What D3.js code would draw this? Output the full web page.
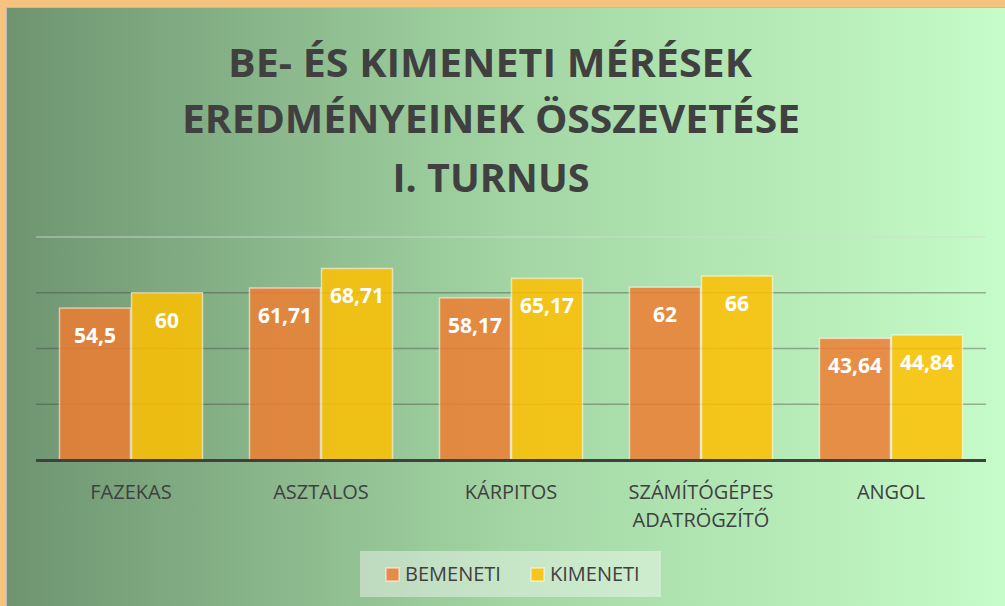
<!DOCTYPE html>
<html>
<head>
<meta charset="utf-8">
<script src="https://cdn.jsdelivr.net/npm/d3@7"></script>
<style>
  html, body { margin: 0; padding: 0; background: #F5C37E; }
  svg { display: block; font-family: "Open Sans", "Noto Sans", sans-serif; }
</style>
</head>
<body>
<svg id="chart" width="1005" height="606"></svg>
<script>
// data
var categories = [["FAZEKAS"], ["ASZTALOS"], ["KÁRPITOS"], ["SZÁMÍTÓGÉPES", "ADATRÖGZÍTŐ"], ["ANGOL"]];
var bemeneti = [54.5, 61.71, 58.17, 62, 43.64];
var kimeneti = [60, 68.71, 65.17, 66, 44.84];
var seriesNames = ["BEMENETI", "KIMENETI"];
var yTicks = [0, 20, 40, 60, 80];
var titleLines = ["BE- ÉS KIMENETI MÉRÉSEK", "EREDMÉNYEINEK ÖSSZEVETÉSE", "I. TURNUS"];

(function () {
    var svg = d3.select("#chart");
    var colors = ["#ED7D31", "#FFC000"];

    // background gradient
    var defs = svg.append("defs");
    var grad = defs.append("linearGradient").attr("id", "bg").attr("x1", "0%").attr("x2", "100%").attr("y1", "0%").attr("y2", "0%");
    grad.append("stop").attr("offset", "0%").attr("stop-color", "#6E9470");
    grad.append("stop").attr("offset", "50%").attr("stop-color", "#A2D5A3");
    grad.append("stop").attr("offset", "100%").attr("stop-color", "#C6FCC9");

    svg.append("rect").attr("x", 0).attr("y", 0).attr("width", 1005).attr("height", 606).attr("fill", "#F5C37E");
    svg.append("rect").attr("x", 6.5).attr("y", 7.5).attr("width", 1000).attr("height", 600)
        .attr("fill", "url(#bg)").attr("stroke", "#BBBBBB").attr("stroke-width", 1);

    // title
    var titleX = [490, 491, 491], titleY = [77, 133, 192], titleW = [524, 618, 197];
    svg.append("g").selectAll("text").data(titleLines).enter().append("text")
        .attr("x", (d, i) => titleX[i])
        .attr("y", (d, i) => titleY[i])
        .attr("text-anchor", "middle")
        .attr("font-size", 40)
        .attr("font-weight", "bold")
        .attr("fill", "#404040")
        .attr("textLength", (d, i) => titleW[i])
        .attr("lengthAdjust", "spacingAndGlyphs")
        .text(d => d);

    var x0 = d3.scaleBand().domain(d3.range(categories.length)).range([36, 986]).paddingInner(0.242).paddingOuter(0.121);
    var x1 = d3.scaleBand().domain([0, 1]).range([0, x0.bandwidth()]);
    var y = d3.scaleLinear().domain([0, 80]).range([460, 237]);

    // gridlines
    svg.append("g").selectAll("line").data(yTicks.filter(t => t > 0)).enter().append("line")
        .attr("x1", 36).attr("x2", 986)
        .attr("y1", d => y(d)).attr("y2", d => y(d))
        .attr("stroke", d => d === 80 ? "rgba(217,217,217,0.55)" : "rgba(64,64,64,0.4)")
        .attr("stroke-width", 1.3);

    var rows = categories.map((c, i) => [bemeneti[i], kimeneti[i]]);

    var groups = svg.append("g").selectAll("g").data(rows).enter().append("g")
        .attr("transform", (d, i) => "translate(" + x0(i) + ",0)");

    groups.selectAll("rect").data(d => d).enter().append("rect")
        .attr("x", (d, j) => x1(j) + 0.5)
        .attr("y", d => y(d))
        .attr("width", x1.bandwidth() - 1)
        .attr("height", d => y(0) - y(d))
        .attr("fill", (d, j) => colors[j])
        .attr("fill-opacity", 0.85)
        .attr("stroke", "rgba(255,255,255,0.55)")
        .attr("stroke-width", 1.5);

    groups.selectAll("text").data(d => d).enter().append("text")
        .attr("x", (d, j) => x1(j) + x1.bandwidth() / 2)
        .attr("y", d => y(d) + 35)
        .attr("text-anchor", "middle")
        .attr("font-size", 21)
        .attr("font-weight", "bold")
        .attr("fill", "#FFFFFF")
        .text(d => String(d).replace(".", ","));

    // baseline
    svg.append("line").attr("x1", 36).attr("x2", 986).attr("y1", y(0) + 0.5).attr("y2", y(0) + 0.5)
        .attr("stroke", "#404040").attr("stroke-width", 3);

    // category labels
    var labels = svg.append("g").selectAll("text").data(categories).enter().append("text")
        .attr("x", (d, i) => x0(i) + x0.bandwidth() / 2)
        .attr("y", 499)
        .attr("text-anchor", "middle")
        .attr("font-size", 20)
        .attr("fill", "#404040");
    labels.selectAll("tspan").data(d => d).enter().append("tspan")
        .attr("x", function () { return d3.select(this.parentNode).attr("x"); })
        .attr("dy", (d, i) => i === 0 ? 0 : 28)
        .text(d => d);

    // legend
    var legend = svg.append("g");
    legend.append("rect").attr("x", 360).attr("y", 551).attr("width", 301).attr("height", 46)
        .attr("fill", "rgba(255,255,255,0.4)");
    var legX = [386, 531];
    var items = legend.selectAll("g").data(seriesNames).enter().append("g")
        .attr("transform", (d, i) => "translate(" + legX[i] + ",568)");
    items.append("rect").attr("x", 0).attr("y", 0).attr("width", 13).attr("height", 13)
        .attr("fill", (d, i) => colors[i]).attr("fill-opacity", 0.85)
        .attr("stroke", "rgba(255,255,255,0.55)").attr("stroke-width", 1.5);
    items.append("text").attr("x", 19).attr("y", 13)
        .attr("font-size", 20).attr("fill", "#404040")
        .text(d => d);
})();
</script>
</body>
</html>
